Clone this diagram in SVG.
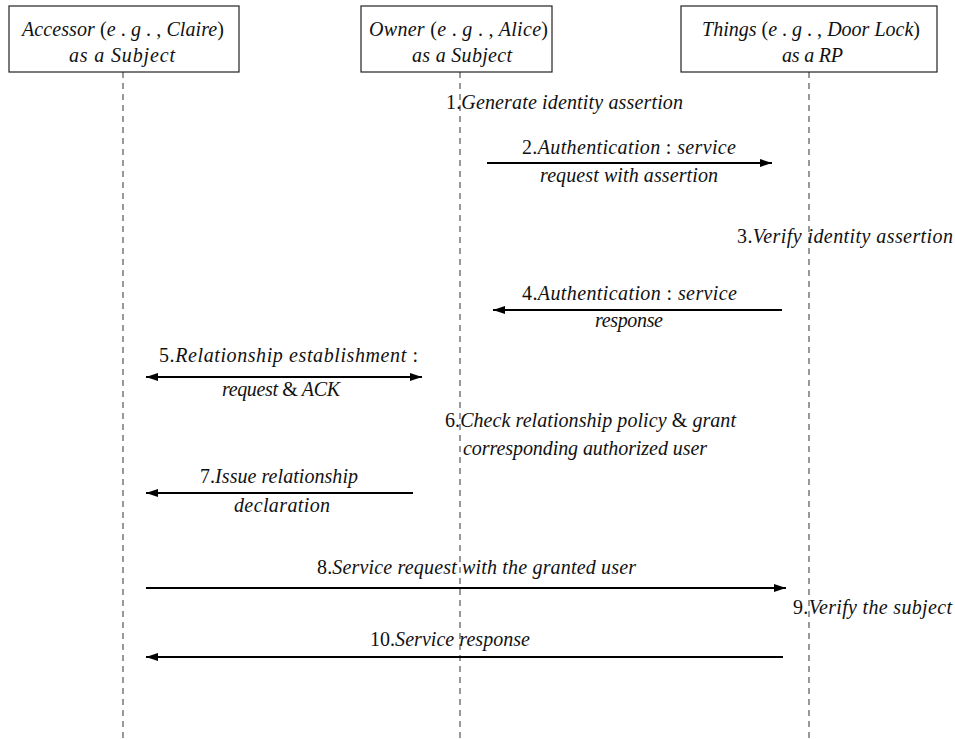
<svg xmlns="http://www.w3.org/2000/svg" width="955" height="740" viewBox="0 0 955 740">
<style>
text{font-family:'Liberation Serif','Times New Roman','DejaVu Serif',serif;font-size:20px;font-style:italic;fill:#111;}
.u{font-style:normal;}
.box{fill:#fff;stroke:#222;stroke-width:1.2;}
.life{stroke:#555;stroke-width:1.2;stroke-dasharray:6,5;fill:none;}
.msg{stroke:#000;stroke-width:2;fill:none;}
</style>
<defs>
<marker id="ah" markerUnits="userSpaceOnUse" markerWidth="14" markerHeight="10" refX="12" refY="5" orient="auto-start-reverse">
<path d="M0,1 L12,5 L0,9 z" fill="#000"/>
</marker>
</defs>
<rect width="955" height="740" fill="#fff"/>
<g id="accessor">
<line class="life" x1="123" y1="72" x2="123" y2="740"/>
<rect class="box" x="9" y="6" width="230" height="66"/>
<text x="22" y="36" textLength="202" lengthAdjust="spacing">Accessor <tspan class="u">(</tspan>e <tspan class="u">.</tspan> g <tspan class="u">. ,</tspan> Claire<tspan class="u">)</tspan></text>
<text x="69" y="62" textLength="106" lengthAdjust="spacing">as a Subject</text>
</g>
<g id="owner">
<line class="life" x1="460" y1="72" x2="460" y2="740"/>
<rect class="box" x="361" y="6" width="191" height="66"/>
<text x="369" y="36" textLength="179" lengthAdjust="spacing">Owner <tspan class="u">(</tspan>e <tspan class="u">.</tspan> g <tspan class="u">. ,</tspan> Alice<tspan class="u">)</tspan></text>
<text x="412" y="62" textLength="100" lengthAdjust="spacing">as a Subject</text>
</g>
<g id="things">
<line class="life" x1="809" y1="72" x2="809" y2="740"/>
<rect class="box" x="681" y="6" width="256" height="66"/>
<text x="702" y="36" textLength="218" lengthAdjust="spacing">Things <tspan class="u">(</tspan>e <tspan class="u">.</tspan> g <tspan class="u">. ,</tspan> Door Lock<tspan class="u">)</tspan></text>
<text x="782" y="62" textLength="61" lengthAdjust="spacing">as a RP</text>
</g>
<g id="connectors">
<line class="msg" x1="487" y1="163" x2="772" y2="163" marker-end="url(#ah)"/>
<line class="msg" x1="782" y1="310" x2="493" y2="310" marker-end="url(#ah)"/>
<line class="msg" x1="146" y1="377" x2="422" y2="377" marker-start="url(#ah)" marker-end="url(#ah)"/>
<line class="msg" x1="413" y1="493" x2="146" y2="493" marker-end="url(#ah)"/>
<line class="msg" x1="146" y1="588" x2="786" y2="588" marker-end="url(#ah)"/>
<line class="msg" x1="783" y1="657" x2="146" y2="657" marker-end="url(#ah)"/>
</g>
<g id="labels">
<text x="446" y="109" textLength="237" lengthAdjust="spacing"><tspan class="u">1.</tspan>Generate identity assertion</text>
<text x="522" y="154" textLength="214" lengthAdjust="spacing"><tspan class="u">2.</tspan>Authentication <tspan class="u">:</tspan>  service</text>
<text x="540" y="182" textLength="178" lengthAdjust="spacing">request with assertion</text>
<text x="737" y="243" textLength="216" lengthAdjust="spacing"><tspan class="u">3.</tspan>Verify identity assertion</text>
<text x="522" y="300" textLength="215" lengthAdjust="spacing"><tspan class="u">4.</tspan>Authentication <tspan class="u">:</tspan>  service</text>
<text x="595" y="327" textLength="68" lengthAdjust="spacing">response</text>
<text x="159" y="362" textLength="259" lengthAdjust="spacing"><tspan class="u">5.</tspan>Relationship establishment <tspan class="u">:</tspan></text>
<text x="222" y="396" textLength="118" lengthAdjust="spacing">request <tspan class="u">&amp;</tspan> ACK</text>
<text x="445" y="427" textLength="291" lengthAdjust="spacing"><tspan class="u">6.</tspan>Check relationship policy <tspan class="u">&amp;</tspan> grant</text>
<text x="463" y="455" textLength="244" lengthAdjust="spacing">corresponding authorized user</text>
<text x="200" y="483" textLength="158" lengthAdjust="spacing"><tspan class="u">7.</tspan>Issue relationship</text>
<text x="234" y="512" textLength="96" lengthAdjust="spacing">declaration</text>
<text x="317" y="574" textLength="319" lengthAdjust="spacing"><tspan class="u">8.</tspan>Service request with the granted user</text>
<text x="793" y="614" textLength="159" lengthAdjust="spacing"><tspan class="u">9.</tspan>Verify the subject</text>
<text x="370" y="646" textLength="160" lengthAdjust="spacing"><tspan class="u">10.</tspan>Service response</text>
</g>
</svg>
